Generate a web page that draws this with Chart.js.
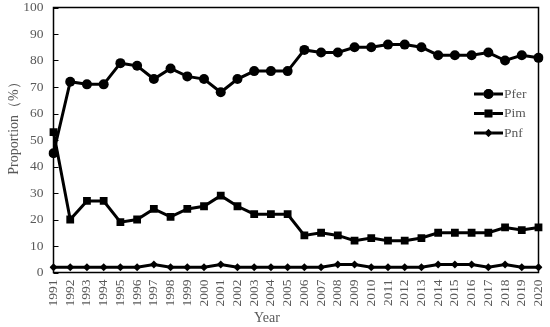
<!DOCTYPE html>
<html>
<head>
<meta charset="utf-8">
<script src="https://cdn.jsdelivr.net/npm/chart.js@4/dist/chart.umd.min.js"></script>
<style>
  html, body { margin: 0; padding: 0; background: #fff; }
  #wrap { width: 550px; height: 327px; }
</style>
</head>
<body>
<div id="wrap"><canvas id="chart"></canvas></div>
<script>
  // ── Data ─────────────────────────────────────────
  const years = [
    "1991", "1992", "1993", "1994", "1995", "1996", "1997", "1998", "1999", "2000",
    "2001", "2002", "2003", "2004", "2005", "2006", "2007", "2008", "2009", "2010",
    "2011", "2012", "2013", "2014", "2015", "2016", "2017", "2018", "2019", "2020"
  ];
  const pfer = [45, 72, 71, 71, 79, 78, 73, 77, 74, 73, 68, 73, 76, 76, 76, 84, 83, 83, 85, 85, 86, 86, 85, 82, 82, 82, 83, 80, 82, 81];
  const pim = [53, 20, 27, 27, 19, 20, 24, 21, 24, 25, 29, 25, 22, 22, 22, 14, 15, 14, 12, 13, 12, 12, 13, 15, 15, 15, 15, 17, 16, 17];
  const pnf = [2, 2, 2, 2, 2, 2, 3, 2, 2, 2, 3, 2, 2, 2, 2, 2, 2, 3, 3, 2, 2, 2, 2, 3, 3, 3, 2, 3, 2, 2];
  const yTicks = [0, 10, 20, 30, 40, 50, 60, 70, 80, 90, 100];
  const xTitle = "Year";
  const yTitle = "Proportion（%）";

  const textColor = "#595959";
  const serif = "'Liberation Serif', 'DejaVu Serif', serif";

  function series(label, data, style, radius) {
    return {
      label: label,
      data: data,
      borderColor: "#000",
      backgroundColor: "#000",
      borderWidth: 3,
      pointStyle: style,
      pointRadius: radius,
      pointBorderWidth: 0,
      pointBackgroundColor: "#000",
      tension: 0,
    };
  }

  // Box frame, inward ticks, axis titles and in-plot legend
  const decor = {
    id: "decor",
    afterDraw(chart) {
      const ctx = chart.ctx;
      const a = chart.chartArea;
      const ys = chart.scales.y;
      ctx.save();
      ctx.strokeStyle = "#000";
      ctx.lineWidth = 1.5;
      ctx.strokeRect(a.left, a.top, a.right - a.left, a.bottom - a.top);
      ctx.lineWidth = 1;
      yTicks.forEach((v) => {
        const py = Math.round(ys.getPixelForValue(v)) + 0.5;
        ctx.beginPath();
        ctx.moveTo(a.left, py);
        ctx.lineTo(a.left + 5, py);
        ctx.stroke();
      });

      // axis titles
      ctx.fillStyle = textColor;
      ctx.font = "14px " + serif;
      ctx.textAlign = "center";
      ctx.textBaseline = "middle";
      ctx.fillText(xTitle, 267, 318);
      ctx.save();
      ctx.translate(14, 125);
      ctx.rotate(-Math.PI / 2);
      ctx.fillText(yTitle, 0, 0);
      ctx.restore();

      // legend
      const items = chart.data.datasets;
      const x0 = 474, x1 = 503;
      const yStart = 94, gap = 19.5;
      items.forEach((ds, i) => {
        const py = yStart + i * gap;
        ctx.strokeStyle = "#000";
        ctx.lineWidth = 3;
        ctx.beginPath();
        ctx.moveTo(x0, py);
        ctx.lineTo(x1, py);
        ctx.stroke();
        Chart.helpers.drawPoint(ctx, {
          pointStyle: ds.pointStyle,
          radius: ds.pointRadius,
          borderWidth: 0,
          rotation: 0,
        }, (x0 + x1) / 2, py);
        ctx.fillStyle = "#000";
        ctx.fill();
        ctx.fillStyle = textColor;
        ctx.font = "13.5px " + serif;
        ctx.textBaseline = "middle";
        ctx.textAlign = "left";
        ctx.fillText(ds.label, x1 + 1, py);
      });
      ctx.restore();
    },
  };

  // keep the plot box where the reference has it
  function noPad(scale) {
    scale.paddingTop = 0;
    scale.paddingBottom = 0;
    scale.paddingLeft = 0;
    scale.paddingRight = 0;
  }

  new Chart(document.getElementById("chart").getContext("2d"), {
    type: "line",
    data: {
      labels: years,
      datasets: [
        series("Pfer", pfer, "circle", 5),
        series("Pim", pim, "rect", 5.5),
        series("Pnf", pnf, "rectRot", 4),
      ],
    },
    plugins: [decor],
    options: {
      responsive: true,
      maintainAspectRatio: false,
      animation: false,
      layout: { padding: { top: 7.5, right: 11.5, left: 0, bottom: 0 } },
      plugins: {
        legend: { display: false },
        tooltip: { enabled: false },
      },
      scales: {
        x: {
          offset: false,
          grid: { display: false, drawTicks: false },
          border: { display: false },
          ticks: {
            color: textColor,
            font: { family: serif, size: 13.5 },
            maxRotation: 90,
            minRotation: 90,
            autoSkip: false,
            padding: 7,
          },
          afterFit(scale) { scale.height = 54.5; noPad(scale); },
        },
        y: {
          min: 0,
          max: 100,
          grid: { display: false, drawTicks: false },
          border: { display: false },
          ticks: {
            stepSize: 10,
            color: textColor,
            font: { family: serif, size: 13.5 },
            padding: 10,
          },
          afterFit(scale) { scale.width = 53.5; noPad(scale); },
        },
      },
    },
  });
</script>
</body>
</html>
